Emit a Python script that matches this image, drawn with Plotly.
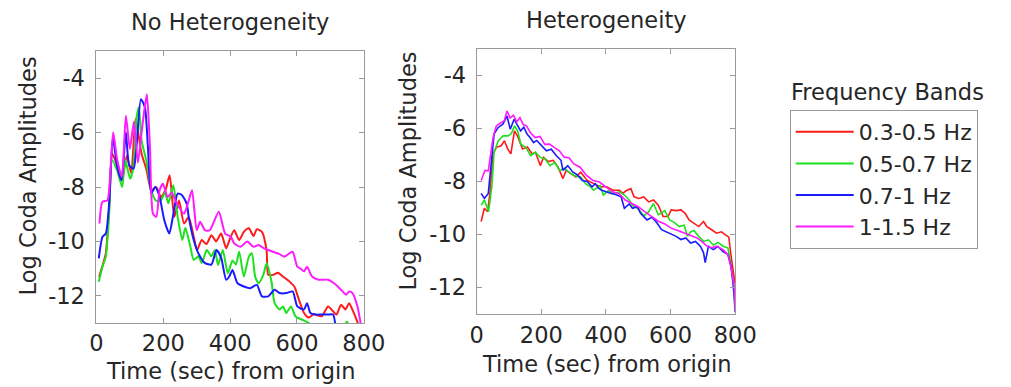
import plotly.graph_objects as go

W, H = 1011, 387

# ---------------- data ----------------
band_names = ["0.3-0.5 Hz", "0.5-0.7 Hz", "0.7-1 Hz", "1-1.5 Hz"]
band_colors = ["#ff1a1a", "#1ee01e", "#1a1aff", "#ff1aff"]

# Left panel: No Heterogeneity
nh_red_t = [8, 18, 28, 38, 47, 62, 77, 91, 104, 117, 135, 149, 164, 178, 193, 207, 219, 233, 247, 262, 276, 291, 301, 315, 329, 344, 358, 373, 388, 398, 412, 427, 441, 456, 470, 480, 495, 509, 514, 529, 543, 558, 577, 592, 606, 621, 635, 650, 674, 693, 708, 718, 732, 745, 756, 768, 781, 790]
nh_red_v = [-11.3, -10.9, -10.44, -8.73, -6.78, -7.2, -7.7, -6.84, -7.5, -5.5, -6.78, -7.33, -8.12, -8.0, -8.37, -8.1, -7.57, -9.1, -8.5, -9.34, -9.1, -9.83, -10.32, -9.95, -10.1, -9.77, -10.0, -9.71, -10.26, -9.95, -9.59, -9.95, -9.65, -9.52, -9.8, -9.55, -9.65, -10.32, -11.23, -11.23, -11.15, -11.29, -11.47, -11.66, -12.15, -12.63, -12.8, -12.68, -12.75, -12.39, -12.57, -12.69, -12.33, -12.5, -12.27, -12.57, -12.97, -13.3]

nh_green_t = [7, 18, 28, 38, 47, 62, 77, 86, 101, 110, 120, 127, 135, 149, 164, 178, 193, 205, 215, 230, 243, 257, 266, 281, 291, 305, 315, 330, 344, 354, 364, 378, 393, 407, 417, 427, 441, 456, 465, 475, 485, 500, 509, 524, 533, 548, 558, 568, 582, 596, 616, 635, 650, 700, 740, 750, 760]
nh_green_v = [-11.48, -10.93, -10.56, -8.98, -7.02, -7.4, -8.0, -7.02, -7.7, -7.3, -5.44, -5.07, -6.29, -7.02, -8.12, -8.5, -8.49, -8.2, -8.6, -7.94, -9.1, -9.95, -9.5, -10.2, -10.68, -10.55, -10.8, -10.32, -10.55, -10.32, -10.87, -10.32, -11.17, -10.7, -10.85, -10.38, -11.29, -10.56, -10.44, -11.3, -11.54, -11.2, -10.8, -11.5, -12.27, -12.5, -12.39, -12.63, -12.39, -12.76, -12.88, -13.0, -13.2, -13.3, -13.1, -12.95, -13.3]

nh_blue_t = [7, 18, 28, 38, 49, 62, 75, 88, 98, 111, 120, 133, 145, 154, 164, 176, 189, 203, 218, 230, 243, 256, 270, 276, 291, 305, 325, 344, 359, 373, 388, 397, 407, 422, 441, 460, 480, 495, 514, 533, 548, 568, 587, 601, 621, 630, 640, 655, 674, 693, 708, 715]
nh_blue_v = [-10.62, -9.83, -9.71, -8.61, -6.17, -7.27, -7.76, -5.99, -7.2, -7.33, -6.5, -4.77, -5.07, -6.54, -8.24, -8.0, -8.37, -9.22, -9.71, -9.0, -8.24, -8.3, -8.61, -9.1, -9.95, -10.44, -10.8, -10.85, -10.32, -10.6, -11.41, -11.3, -11.05, -11.54, -11.66, -11.72, -11.6, -12.02, -12.02, -11.78, -11.9, -11.9, -11.84, -12.39, -12.5, -12.27, -12.63, -12.69, -12.69, -12.69, -12.69, -13.1]

nh_mag_t = [9, 18, 33, 40, 50, 62, 76, 88, 100, 112, 124, 135, 143, 151, 160, 169, 179, 189, 199, 213, 225, 240, 262, 276, 286, 300, 310, 325, 339, 366, 385, 402, 412, 431, 451, 470, 485, 500, 528, 545, 562, 577, 587, 601, 611, 621, 630, 645, 664, 693, 712, 732, 747, 756, 766, 781, 790, 795]
nh_mag_v = [-9.34, -8.54, -8.49, -7.76, -5.99, -7.0, -7.63, -5.38, -6.6, -5.6, -7.1, -6.0, -5.2, -4.59, -6.5, -8.98, -9.1, -8.12, -7.88, -8.37, -8.2, -8.6, -8.98, -8.5, -8.12, -9.59, -9.28, -9.59, -9.59, -8.91, -9.71, -9.83, -10.07, -10.2, -10.0, -10.2, -10.13, -10.25, -10.38, -10.45, -10.56, -10.44, -10.38, -10.93, -11.0, -11.1, -10.93, -11.29, -11.41, -11.41, -11.55, -11.78, -11.96, -11.84, -11.9, -12.39, -12.98, -13.3]

# Right panel: Heterogeneity
h_red_t = [14, 24, 34, 41, 51, 61, 76, 86, 96, 106, 117, 127, 142, 157, 172, 182, 197, 207, 222, 237, 252, 267, 277, 292, 307, 322, 342, 362, 382, 402, 422, 442, 452, 462, 477, 487, 502, 517, 532, 547, 562, 577, 592, 602, 617, 632, 645, 657, 672, 687, 702, 712, 727, 742, 757, 772, 780, 787, 794, 800]
h_red_v = [-9.51, -9.01, -9.14, -8.45, -6.96, -6.71, -6.65, -6.46, -6.77, -6.96, -6.09, -6.3, -6.77, -6.7, -6.96, -6.9, -7.4, -7.09, -7.25, -7.2, -7.46, -7.89, -7.58, -7.7, -7.83, -7.65, -7.96, -8.08, -8.2, -8.2, -8.33, -8.33, -8.45, -8.35, -8.27, -8.58, -8.64, -8.58, -8.77, -8.7, -8.89, -9.32, -9.32, -9.07, -9.1, -9.07, -9.2, -9.45, -9.57, -9.7, -9.51, -9.7, -9.82, -9.95, -9.9, -10.01, -10.1, -10.81, -11.44, -11.9]

h_green_t = [14, 24, 37, 47, 54, 67, 82, 97, 107, 117, 127, 137, 152, 167, 182, 197, 212, 227, 242, 257, 272, 292, 307, 322, 337, 352, 362, 382, 392, 407, 422, 442, 457, 472, 482, 502, 517, 532, 547, 562, 582, 597, 612, 627, 642, 652, 662, 672, 687, 702, 717, 732, 747, 762, 777, 784, 792, 800]
h_green_v = [-8.89, -8.7, -9.14, -8.2, -6.9, -6.46, -6.28, -6.28, -6.2, -5.9, -6.1, -6.59, -6.71, -7.02, -6.9, -7.09, -7.15, -7.4, -7.28, -7.58, -7.5, -7.71, -7.8, -7.83, -8.08, -8.2, -8.33, -8.15, -8.51, -8.35, -8.45, -8.39, -8.51, -8.7, -8.9, -9.05, -9.3, -9.15, -8.83, -9.26, -9.1, -9.45, -9.55, -9.7, -9.65, -10.07, -9.9, -9.85, -10.07, -10.26, -10.2, -10.4, -10.3, -10.44, -10.5, -10.94, -11.69, -12.43]

h_blue_t = [14, 24, 36, 46, 54, 66, 81, 94, 104, 116, 126, 136, 146, 156, 166, 176, 186, 201, 216, 231, 246, 261, 267, 282, 297, 312, 327, 342, 357, 367, 377, 387, 402, 417, 432, 447, 457, 472, 482, 497, 507, 527, 542, 557, 572, 587, 602, 617, 632, 647, 662, 677, 692, 702, 707, 717, 732, 747, 762, 777, 787, 794, 800]
h_blue_v = [-8.45, -8.64, -8.45, -7.08, -6.21, -5.97, -5.84, -5.53, -6.03, -5.65, -5.9, -6.09, -5.95, -6.21, -6.35, -6.53, -6.45, -6.65, -6.84, -6.78, -7.02, -7.2, -7.58, -7.4, -7.64, -7.75, -7.96, -8.0, -8.2, -8.08, -8.25, -8.33, -8.4, -8.45, -8.5, -8.58, -9.01, -8.85, -9.01, -8.95, -9.2, -9.45, -9.35, -9.55, -9.82, -9.9, -10.01, -10.07, -10.19, -10.13, -10.32, -10.26, -10.44, -10.69, -11.06, -10.45, -10.57, -10.45, -10.65, -10.75, -11.19, -11.94, -12.93]

h_mag_t = [14, 26, 36, 41, 51, 61, 76, 86, 94, 104, 114, 124, 134, 144, 154, 166, 181, 196, 211, 226, 241, 256, 271, 286, 300, 320, 340, 360, 380, 400, 420, 440, 460, 480, 500, 520, 540, 562, 582, 602, 622, 642, 662, 682, 700, 712, 727, 742, 762, 777, 787, 797, 800]
h_mag_v = [-7.96, -7.58, -7.6, -7.21, -6.34, -5.9, -5.78, -5.7, -5.34, -5.6, -5.5, -5.75, -5.59, -5.85, -5.9, -6.15, -6.34, -6.3, -6.6, -6.59, -6.72, -6.84, -7.08, -7.1, -7.33, -7.46, -7.77, -7.96, -8.02, -8.2, -8.39, -8.45, -8.7, -8.83, -8.95, -9.14, -9.32, -9.5, -9.6, -9.76, -9.85, -9.95, -10.05, -10.13, -10.3, -10.44, -10.5, -10.44, -10.57, -10.75, -11.25, -12.0, -12.9]

panel_titles = ["No Heterogeneity", "Heterogeneity"]
x_title = "Time (sec) from origin"
y_title = "Log Coda Amplitudes"
legend_title = "Frequency Bands"
x_ticks = [0, 200, 400, 600, 800]
y_ticks = [-12, -10, -8, -6, -4]
y_ticklabels = ["-12", "-10", "-8", "-6", "-4"]

left_series = [(nh_red_t, nh_red_v), (nh_green_t, nh_green_v), (nh_blue_t, nh_blue_v), (nh_mag_t, nh_mag_v)]
right_series = [(h_red_t, h_red_v), (h_green_t, h_green_v), (h_blue_t, h_blue_v), (h_mag_t, h_mag_v)]

# ---------------- figure ----------------
FONT = "DejaVu Sans"
FS = 22.5
TXT = "#262626"
FRAME = "#9a9a9a"

def px_x(p):
    return p / W

def px_y(p):
    return (H - p) / H

fig = go.Figure()

for i, (t, v) in enumerate(left_series):
    fig.add_trace(go.Scatter(x=t, y=v, mode="lines", name=band_names[i],
                             line=dict(color=band_colors[i], width=2, shape="spline", smoothing=0.6),
                             xaxis="x", yaxis="y", showlegend=True, legendgroup=band_names[i]))
for i, (t, v) in enumerate(right_series):
    fig.add_trace(go.Scatter(x=t, y=v, mode="lines", name=band_names[i],
                             line=dict(color=band_colors[i], width=1.6),
                             xaxis="x2", yaxis="y2", showlegend=False, legendgroup=band_names[i]))

axis_common = dict(showline=True, mirror="ticks", linecolor=FRAME, linewidth=1,
                   ticks="inside", ticklen=5, tickcolor=FRAME, showgrid=False, zeroline=False,
                   tickfont=dict(family=FONT, size=FS, color=TXT))

fig.update_layout(
    width=W, height=H, margin=dict(l=0, r=0, t=0, b=0),
    paper_bgcolor="white", plot_bgcolor="white",
    font=dict(family=FONT, size=FS, color=TXT),
    xaxis=dict(domain=[px_x(92), px_x(367)], range=[0, 800], tickvals=x_ticks,
               anchor="y", ticklabelstandoff=0, **axis_common),
    yaxis=dict(domain=[px_y(323), px_y(51)], range=[-13, -3], tickvals=y_ticks,
               ticktext=y_ticklabels, anchor="x", ticklabelstandoff=6, **axis_common),
    xaxis2=dict(domain=[px_x(483), px_x(749)], range=[0, 800], tickvals=x_ticks,
                anchor="y2", ticklabelstandoff=1, **axis_common),
    yaxis2=dict(domain=[px_y(314), px_y(49)], range=[-13, -3], tickvals=y_ticks,
                ticktext=y_ticklabels, anchor="x2", ticklabelstandoff=5, **axis_common),
    legend=dict(x=px_x(805), y=px_y(110), xanchor="left", yanchor="top",
                bordercolor=FRAME, borderwidth=1, bgcolor="white",
                font=dict(family=FONT, size=22, color=TXT), itemwidth=58,
                tracegroupgap=0),
)

ann = []
def text(s, x, y, angle=0):
    ann.append(dict(text=s, x=px_x(x), y=px_y(y), xref="paper", yref="paper",
                    xanchor="center", yanchor="middle", showarrow=False, textangle=angle,
                    font=dict(family=FONT, size=FS, color=TXT)))

text(panel_titles[0], 229, 22)
text(panel_titles[1], 617, 20)
text(x_title, 230, 371)
text(x_title, 617, 364)
text(y_title, 22, 176, -90)
text(y_title, 412, 171, -90)
text(legend_title, 906, 92)
fig.update_layout(annotations=ann)

fig.write_html("out.html")
